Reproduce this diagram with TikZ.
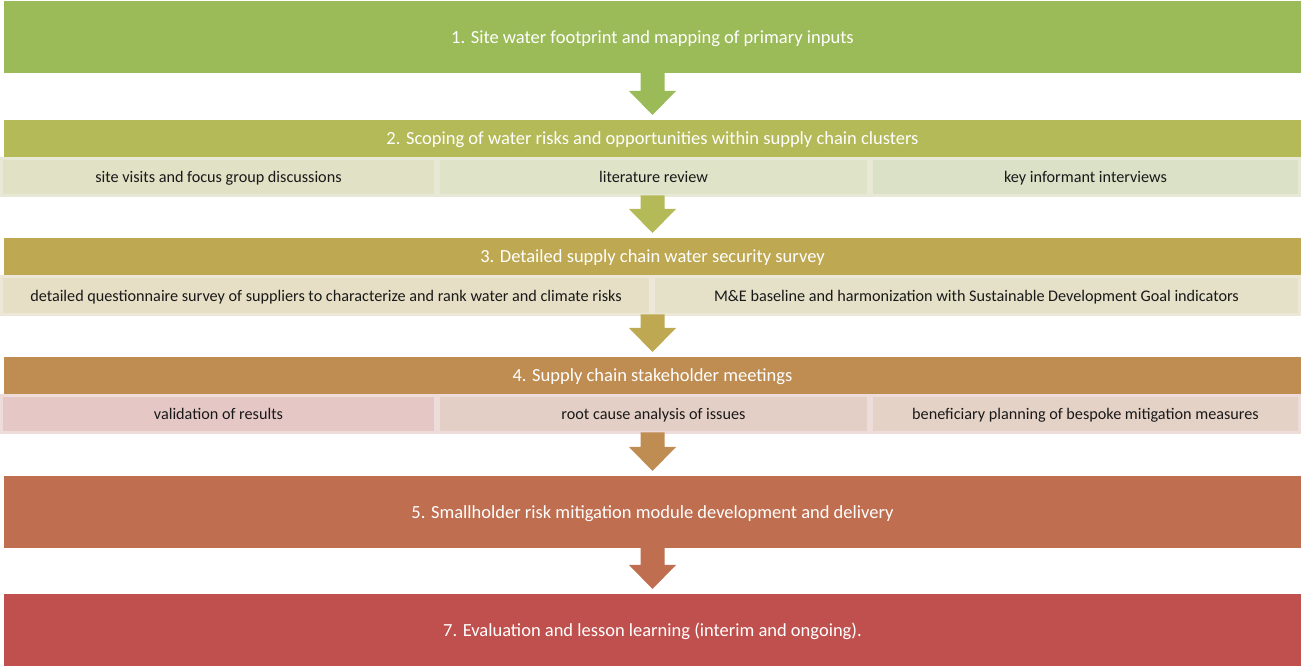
\documentclass[tikz,border=0pt]{standalone}
\usepackage{fontspec}
\setmainfont{Carlito}
\usetikzlibrary{calc,positioning}
\definecolor{cA}{HTML}{9BBB59}
\definecolor{cB}{HTML}{B4BA58}
\definecolor{cC}{HTML}{BEA852}
\definecolor{cD}{HTML}{BF8C52}
\definecolor{cE}{HTML}{BF6E50}
\definecolor{cF}{HTML}{C0504D}
\definecolor{rBa}{HTML}{E0E1C5}
\definecolor{rBb}{HTML}{DFE3C8}
\definecolor{rBc}{HTML}{DAE1C7}
\definecolor{rBline}{HTML}{E7E8D6}
\definecolor{rCa}{HTML}{E6DEC5}
\definecolor{rCb}{HTML}{E5E0C8}
\definecolor{rCline}{HTML}{ECE7D7}
\definecolor{rDa}{HTML}{E5C8C6}
\definecolor{rDb}{HTML}{E4CFC6}
\definecolor{rDc}{HTML}{E5D2C7}
\definecolor{rDline}{HTML}{EDDCD9}
\newcommand\flowarrow[3]{%
  \fill[#3] ($(#2.north |- #1.south)+(-12,0)$) -- ($(#2.north |- #1.south)+(12,0)$)
    -- ($(#2.north)+(12,29)$) -- ($(#2.north)+(23.5,29)$) -- ($(#2.north)+(0,5)$)
    -- ($(#2.north)+(-23.5,29)$) -- ($(#2.north)+(-12,29)$) -- cycle;}
\begin{document}
\begin{tikzpicture}[x=1pt,y=1pt,
  stage/.style={rectangle,inner sep=0pt,outer sep=0pt,anchor=north west,text depth=0pt,
    minimum width=1297pt,text=white,font=\fontsize{18.5}{22}\selectfont},
  cell/.style={rectangle,inner sep=0pt,outer sep=0pt,line width=3pt,text depth=0pt,
    minimum height=37pt,text=black!90,font=\fontsize{16.2}{20}\selectfont}]
\useasboundingbox (0,0) rectangle (1301,666);
% stage 1
\node[stage,fill=cA,minimum height=72pt] (s1) at (4,665) {1. Site water footprint and mapping of primary inputs};
% stage 2
\node[stage,fill=cB,minimum height=37pt] (s2) at (4,546) {2. Scoping of water risks and opportunities within supply chain clusters};
\node[cell,fill=rBa,draw=rBline,minimum width=434pt] (s2a) at (218.5,489) {site visits and focus group discussions};
\node[cell,fill=rBb,draw=rBline,minimum width=430pt] (s2b) at (653.5,489) {literature review};
\node[cell,fill=rBc,draw=rBline,minimum width=428pt] (s2c) at (1085.5,489) {key informant interviews};
% stage 3
\node[stage,fill=cC,minimum height=37pt] (s3) at (4,428) {3. Detailed supply chain water security survey};
\node[cell,fill=rCa,draw=rCline,minimum width=649pt,minimum height=38pt] (s3a) at (326,370.5) {detailed questionnaire survey of suppliers to characterize and rank water and climate risks};
\node[cell,fill=rCb,draw=rCline,minimum width=646pt,minimum height=38pt] (s3b) at (976.5,370.5) {M\&E baseline and harmonization with Sustainable Development Goal indicators};
% stage 4
\node[stage,fill=cD,minimum height=37pt] (s4) at (4,309) {4. Supply chain stakeholder meetings};
\node[cell,fill=rDa,draw=rDline,minimum width=434pt] (s4a) at (218.5,252) {validation of results};
\node[cell,fill=rDb,draw=rDline,minimum width=430pt] (s4b) at (653.5,252) {root cause analysis of issues};
\node[cell,fill=rDc,draw=rDline,minimum width=428pt] (s4c) at (1085.5,252) {beneficiary planning of bespoke mitigation measures};
% stage 5
\node[stage,fill=cE,minimum height=72pt] (s5) at (4,190) {5. Smallholder risk mitigation module development and delivery};
% stage 7
\node[stage,fill=cF,minimum height=72pt] (s7) at (4,72) {7. Evaluation and lesson learning (interim and ongoing).};
% arrows
\flowarrow{s1}{s2}{cA}
\flowarrow{s2b}{s3}{cB}
\flowarrow{s3a}{s4}{cC}
\flowarrow{s4b}{s5}{cD}
\flowarrow{s5}{s7}{cE}
\end{tikzpicture}
\end{document}
